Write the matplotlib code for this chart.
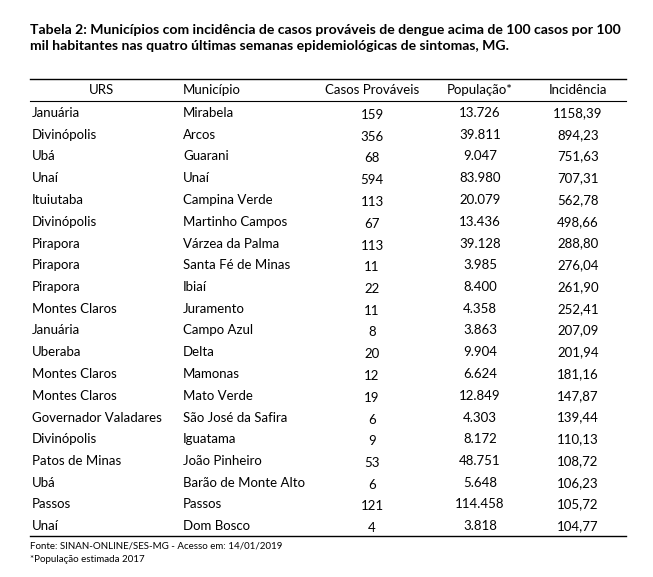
import matplotlib.pyplot as plt
from matplotlib.lines import Line2D

plt.rcParams['font.family'] = ['Lato', 'DejaVu Sans']

title = ("Tabela 2: Municípios com incidência de casos prováveis de dengue acima de 100 casos por 100\n"
         "mil habitantes nas quatro últimas semanas epidemiológicas de sintomas, MG.")
headers = ["URS", "Município", "Casos Prováveis", "População*", "Incidência"]
urs = ["Januária", "Divinópolis", "Ubá", "Unaí", "Ituiutaba", "Divinópolis", "Pirapora",
       "Pirapora", "Pirapora", "Montes Claros", "Januária", "Uberaba", "Montes Claros",
       "Montes Claros", "Governador Valadares", "Divinópolis", "Patos de Minas", "Ubá",
       "Passos", "Unaí"]
municipio = ["Mirabela", "Arcos", "Guarani", "Unaí", "Campina Verde", "Martinho Campos",
             "Várzea da Palma", "Santa Fé de Minas", "Ibiaí", "Juramento", "Campo Azul",
             "Delta", "Mamonas", "Mato Verde", "São José da Safira", "Iguatama",
             "João Pinheiro", "Barão de Monte Alto", "Passos", "Dom Bosco"]
casos = [159, 356, 68, 594, 113, 67, 113, 11, 22, 11, 8, 20, 12, 19, 6, 9, 53, 6, 121, 4]
populacao = ["13.726", "39.811", "9.047", "83.980", "20.079", "13.436", "39.128", "3.985",
             "8.400", "4.358", "3.863", "9.904", "6.624", "12.849", "4.303", "8.172",
             "48.751", "5.648", "114.458", "3.818"]
incidencia = ["1158,39", "894,23", "751,63", "707,31", "562,78", "498,66", "288,80",
              "276,04", "261,90", "252,41", "207,09", "201,94", "181,16", "147,87",
              "139,44", "110,13", "108,72", "106,23", "105,72", "104,77"]
fonte = ["Fonte: SINAN-ONLINE/SES-MG - Acesso em: 14/01/2019", "*População estimada 2017"]

W, H = 653, 577
fig = plt.figure(figsize=(W / 100, H / 100), dpi=100)

def txt(x, y, s, **kw):
    fig.text(x / W, 1 - y / H, s, va='center', **kw)

def hline(y, lw=1.0):
    fig.add_artist(Line2D([30 / W, 626 / W], [1 - y / H, 1 - y / H], color='black', lw=lw))

txt(30, 38, title, fontsize=10.1, fontweight='bold', linespacing=1.45)

hline(79)
hline(101, 0.8)
hy = 90
txt(102, hy, headers[0], fontsize=9.5, ha='center')
txt(183, hy, headers[1], fontsize=9.5, ha='left')
txt(372, hy, headers[2], fontsize=9.5, ha='center')
txt(480, hy, headers[3], fontsize=9.5, ha='center')
txt(578, hy, headers[4], fontsize=9.5, ha='center')

y0, dy = 113, 21.75
for i in range(len(urs)):
    y = y0 + i * dy
    txt(32, y, urs[i], fontsize=9.5, ha='left')
    txt(183, y, municipio[i], fontsize=9.5, ha='left')
    txt(372, y + 2, str(casos[i]), fontsize=9.5, ha='center')
    txt(480, y, populacao[i], fontsize=9.5, ha='center')
    txt(578, y, incidencia[i], fontsize=9.5, ha='center')

hline(536)
txt(30, 546, fonte[0], fontsize=7)
txt(30, 559, fonte[1], fontsize=7)

fig.savefig("out.png", dpi=100)
